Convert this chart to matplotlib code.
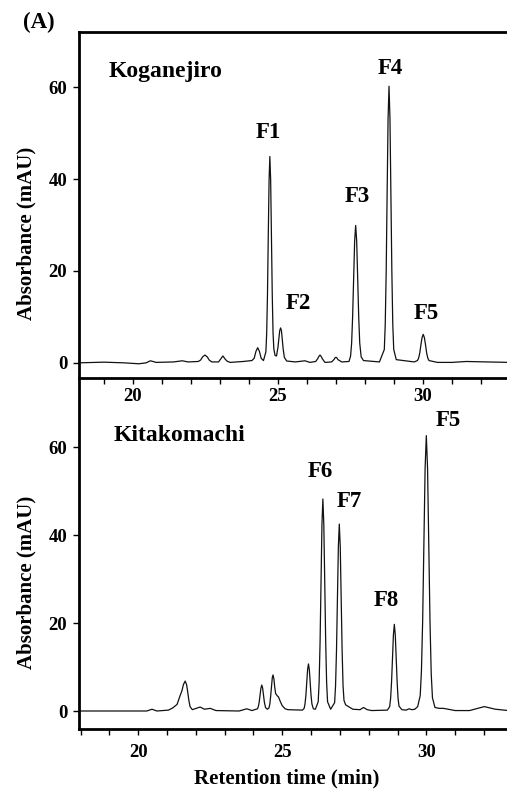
import numpy as np
import matplotlib
matplotlib.use("Agg")
import matplotlib.pyplot as plt
from matplotlib.ticker import MultipleLocator

plt.rcParams['font.family'] = ['Liberation Serif', 'DejaVu Serif']
plt.rcParams['font.weight'] = 'bold'

# Koganejiro trace (retention time in min, absorbance in mAU)
koga_t = [18.1, 19.0, 19.7, 20.2, 20.45, 20.6, 20.8, 21.4, 21.7, 21.9, 22.25,
          22.33, 22.4, 22.48, 22.56, 22.63, 22.72,
          22.95, 23.02, 23.1, 23.18, 23.25, 23.35,
          23.8, 24.1, 24.18, 24.24, 24.3, 24.36, 24.42, 24.5,
          24.583, 24.61, 24.638, 24.665, 24.693, 24.72, 24.748, 24.775, 24.803, 24.83, 24.858, 24.9, 24.95,
          25.0, 25.03, 25.06, 25.09, 25.12, 25.15, 25.18, 25.22, 25.3,
          25.6, 25.93, 26.1, 26.3,
          26.37, 26.41, 26.45, 26.49, 26.53, 26.62,
          26.85, 26.93, 26.97, 27.0, 27.03, 27.07, 27.2, 27.45,
          27.505, 27.54, 27.575, 27.61, 27.645, 27.68, 27.715, 27.75, 27.785, 27.82, 27.87, 27.95, 28.5,
          28.668, 28.70, 28.733, 28.765, 28.798, 28.83, 28.863, 28.895, 28.928, 28.96, 28.993, 29.08, 29.7,
          29.81, 29.85, 29.89, 29.93, 29.97, 30.01, 30.05, 30.09, 30.13, 30.17, 30.21,
          30.5, 31.0, 31.5, 32.2, 33.0]
koga_a = [0.0, 0.15, 0.0, -0.2, 0.0, 0.45, 0.1, 0.2, 0.45, 0.2, 0.3,
          0.6, 1.3, 1.7, 1.3, 0.6, 0.2,
          0.2, 0.8, 1.5, 0.8, 0.35, 0.1,
          0.3, 0.5, 1.0, 2.5, 3.3, 2.5, 1.0, 0.5,
          2.4, 6.3, 14.8, 27.4, 39.7, 44.9, 39.7, 27.4, 14.8, 6.5, 3.0, 1.6, 1.5,
          3.4, 5.2, 7.0, 7.6, 7.0, 5.0, 3.0, 1.2, 0.4,
          0.2, 0.45, 0.1, 0.3,
          0.9, 1.4, 1.7, 1.4, 0.9, 0.1,
          0.2, 0.7, 1.1, 1.2, 1.1, 0.7, 0.2, 0.3,
          1.5, 4.2, 10.0, 18.3, 26.5, 29.9, 26.5, 18.3, 10.0, 4.3, 1.3, 0.5, 0.2,
          2.9, 8.4, 19.9, 36.8, 53.2, 60.2, 53.2, 36.8, 19.9, 8.4, 2.9, 0.7, 0.2,
          0.5, 1.0, 2.1, 3.9, 5.5, 6.2, 5.5, 3.9, 2.1, 1.0, 0.5,
          0.1, 0.1, 0.3, 0.2, 0.1]

# Kitakomachi trace
kita_t = [17.9, 20.3, 20.48, 20.65, 21.05, 21.2, 21.35, 21.45, 21.52, 21.57, 21.63, 21.68, 21.72, 21.76, 21.8, 21.88,
          22.15, 22.3, 22.5, 22.7, 23.5, 23.77, 23.95,
          24.14, 24.17, 24.2, 24.23, 24.26, 24.29, 24.32, 24.35, 24.38, 24.42, 24.48,
          24.54, 24.57, 24.6, 24.63, 24.655, 24.68, 24.71, 24.74, 24.77, 24.82, 24.87, 24.93, 25.0, 25.1, 25.2, 25.7,
          25.76, 25.79, 25.82, 25.85, 25.88, 25.91, 25.94, 25.97, 26.0, 26.03, 26.08, 26.15,
          26.248, 26.28, 26.313, 26.345, 26.378, 26.41, 26.443, 26.475, 26.508, 26.54, 26.573, 26.68,
          26.818, 26.85, 26.883, 26.915, 26.948, 26.98, 27.013, 27.045, 27.078, 27.11, 27.143, 27.2, 27.3, 27.45,
          27.7, 27.82, 27.95, 28.1, 28.65,
          28.728, 28.76, 28.793, 28.825, 28.858, 28.89, 28.923, 28.955, 28.988, 29.02, 29.053, 29.15,
          29.3, 29.4, 29.5, 29.6, 29.7,
          29.788, 29.83, 29.873, 29.915, 29.958, 30.0, 30.043, 30.085, 30.128, 30.17, 30.213, 30.3,
          30.45, 30.6, 31.0, 31.5, 32.01, 32.4, 33.0]
kita_a = [0.0, 0.0, 0.4, 0.0, 0.2, 0.7, 1.5, 3.4, 4.6, 6.0, 6.8, 6.0, 4.3, 2.4, 1.0, 0.3,
          0.9, 0.4, 0.6, 0.1, 0.0, 0.5, 0.1,
          0.5, 1.0, 2.0, 3.6, 5.2, 5.9, 5.2, 3.6, 2.0, 0.8, 0.4,
          0.7, 1.6, 3.5, 5.8, 7.6, 8.2, 7.3, 5.4, 4.0, 3.5, 3.2, 2.2, 1.2, 0.5, 0.3, 0.2,
          0.6, 1.6, 3.5, 6.5, 9.4, 10.7, 9.4, 6.5, 3.5, 1.6, 0.5, 0.4,
          2.1, 6.5, 15.7, 29.2, 42.4, 48.2, 42.4, 29.2, 15.7, 6.5, 2.1, 0.4,
          1.9, 5.7, 13.8, 25.8, 37.4, 42.5, 37.4, 25.8, 13.8, 5.8, 2.4, 1.4, 1.0, 0.4,
          0.3, 0.8, 0.3, 0.1, 0.2,
          1.0, 2.8, 6.5, 12.0, 17.3, 19.7, 17.3, 12.0, 6.5, 2.8, 1.1, 0.3,
          0.2, 0.5, 0.3, 0.4, 1.0,
          3.5, 9.0, 20.5, 38.0, 55.2, 62.6, 55.2, 38.0, 20.3, 8.5, 3.0, 0.8,
          0.6, 0.6, 0.1, 0.1, 1.0, 0.4, 0.0]

koga_peaks = ['F1', 'F2', 'F3', 'F4', 'F5']
koga_peak_x = [24.66, 25.69, 27.72, 28.86, 30.1]
koga_peak_y = [50.2, 13.0, 36.3, 64.1, 10.8]

kita_peaks = ['F6', 'F7', 'F8', 'F5']
kita_peak_x = [26.32, 27.33, 28.61, 30.75]
kita_peak_y = [54.5, 47.6, 25.1, 66.0]

fig = plt.figure(figsize=(5.07, 7.92), dpi=100)
ax1 = fig.add_axes([0.156, 0.5227, 0.844, 0.4369])
ax2 = fig.add_axes([0.156, 0.0795, 0.844, 0.4432])

lab_fs = 16.5
tick_fs = 13.5
axlab_fs = 15

for ax, t, a, xlim, ylim in [(ax1, koga_t, koga_a, (18.14, 32.9), (-3.3, 72)),
                             (ax2, kita_t, kita_a, (17.95, 32.8), (-4.1, 75.7))]:
    ax.plot(t, a, color='#111111', lw=0.9)
    ax.set_xlim(*xlim)
    ax.set_ylim(*ylim)
    ax.xaxis.set_major_locator(MultipleLocator(5))
    ax.xaxis.set_minor_locator(MultipleLocator(1))
    ax.set_yticks([0, 20, 40, 60])
    ax.tick_params(axis='both', which='both', direction='out', width=1.0, labelsize=tick_fs)
    ax.tick_params(axis='x', which='both', length=4.5, pad=3)
    ax.tick_params(axis='y', length=4.5, pad=4)
    ax.spines['right'].set_visible(False)
    for s in ['left', 'bottom', 'top']:
        ax.spines[s].set_linewidth(2.0)
    ax.set_ylabel('Absorbance (mAU)', fontsize=axlab_fs, fontweight='bold')
    ax.yaxis.set_label_coords(-0.099, 0.417)
    for lab in ax.get_xticklabels() + ax.get_yticklabels():
        lab.set_fontweight('bold')

ax2.spines['top'].set_visible(False)
ax2.patch.set_alpha(0)
ax2.tick_params(axis='x', which='both', pad=6)
ax2.set_xlabel('Retention time (min)', fontsize=axlab_fs, fontweight='bold')
ax2.xaxis.set_label_coords(0.486, -0.112)

for name, x, y in zip(koga_peaks, koga_peak_x, koga_peak_y):
    ax1.text(x, y, name, ha='center', va='center', fontsize=lab_fs, fontweight='bold')
for name, x, y in zip(kita_peaks, kita_peak_x, kita_peak_y):
    ax2.text(x, y, name, ha='center', va='center', fontsize=lab_fs, fontweight='bold')

ax1.text(19.17, 63.5, 'Koganejiro', ha='left', va='center', fontsize=17, fontweight='bold')
ax2.text(19.14, 62.7, 'Kitakomachi', ha='left', va='center', fontsize=17, fontweight='bold')

fig.text(0.045, 0.972, '(A)', ha='left', va='center', fontsize=16.5, fontweight='bold')

fig.savefig('out.png', dpi=100)
